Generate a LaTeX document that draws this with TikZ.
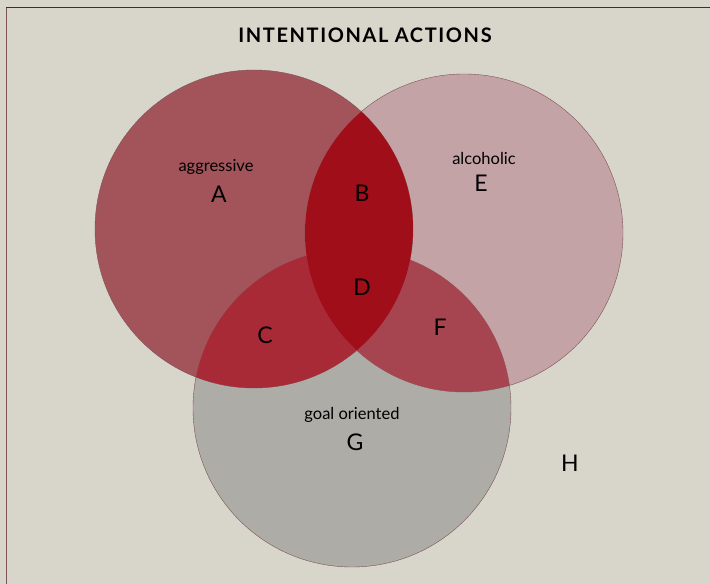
\documentclass[tikz,border=0pt]{standalone}
\usepackage{fontspec}
\setmainfont{Lato}
\definecolor{paper}{HTML}{D8D5CB}
\definecolor{aggr}{HTML}{A3545B}
\definecolor{alco}{HTML}{C4A3A6}
\definecolor{goal}{HTML}{AEACA6}
\definecolor{deep}{HTML}{A00E19}
\definecolor{cred}{HTML}{A82A36}
\definecolor{fred}{HTML}{A6454F}
\definecolor{rim}{HTML}{7E5256}
\tikzset{word/.style={font=\fontsize{16.5}{16.5}\selectfont},letter/.style={font=\fontsize{23}{23}\selectfont}}
\begin{document}
\begin{tikzpicture}[x=1pt,y=1pt]
\useasboundingbox(0,0)rectangle(710,584);
\fill[paper](0,0)rectangle(710,584);
\draw[black!80,line width=1pt](6,576)--(710,576);
\draw[rim,line width=1pt](6,576)--(6,0);
\node[font=\fontsize{20}{20}\selectfont\bfseries\addfontfeature{LetterSpace=8}](title)at(365,549){INTENTIONAL ACTIONS};
\coordinate(a)at(254,355);\coordinate(e)at(464,351);\coordinate(g)at(352,176);
\fill[aggr](a)circle(159);\fill[alco](e)circle(159);\fill[goal](g)circle(159);
\foreach \c in {a,e,g}{\draw[rim,line width=0.4pt](\c)circle(159);}
\begin{scope}\clip(a)circle(159);\fill[cred](g)circle(159);\end{scope}
\begin{scope}\clip(e)circle(159);\fill[fred](g)circle(159);\end{scope}
\begin{scope}\clip(a)circle(159);\fill[deep](e)circle(159);\end{scope}
\node[word](aggressive)at(216,417){aggressive};
\node[word](alcoholic)at(484,426){alcoholic};
\node[word](goaloriented)at(352,169){goal oriented};
\foreach \n/\x/\y in {A/219/390,B/362/391,E/481/401,D/362/297,C/265/249,F/440/257,G/355/142,H/570/121}
  {\node[letter](\n)at(\x,\y){\n};}
\end{tikzpicture}
\end{document}
